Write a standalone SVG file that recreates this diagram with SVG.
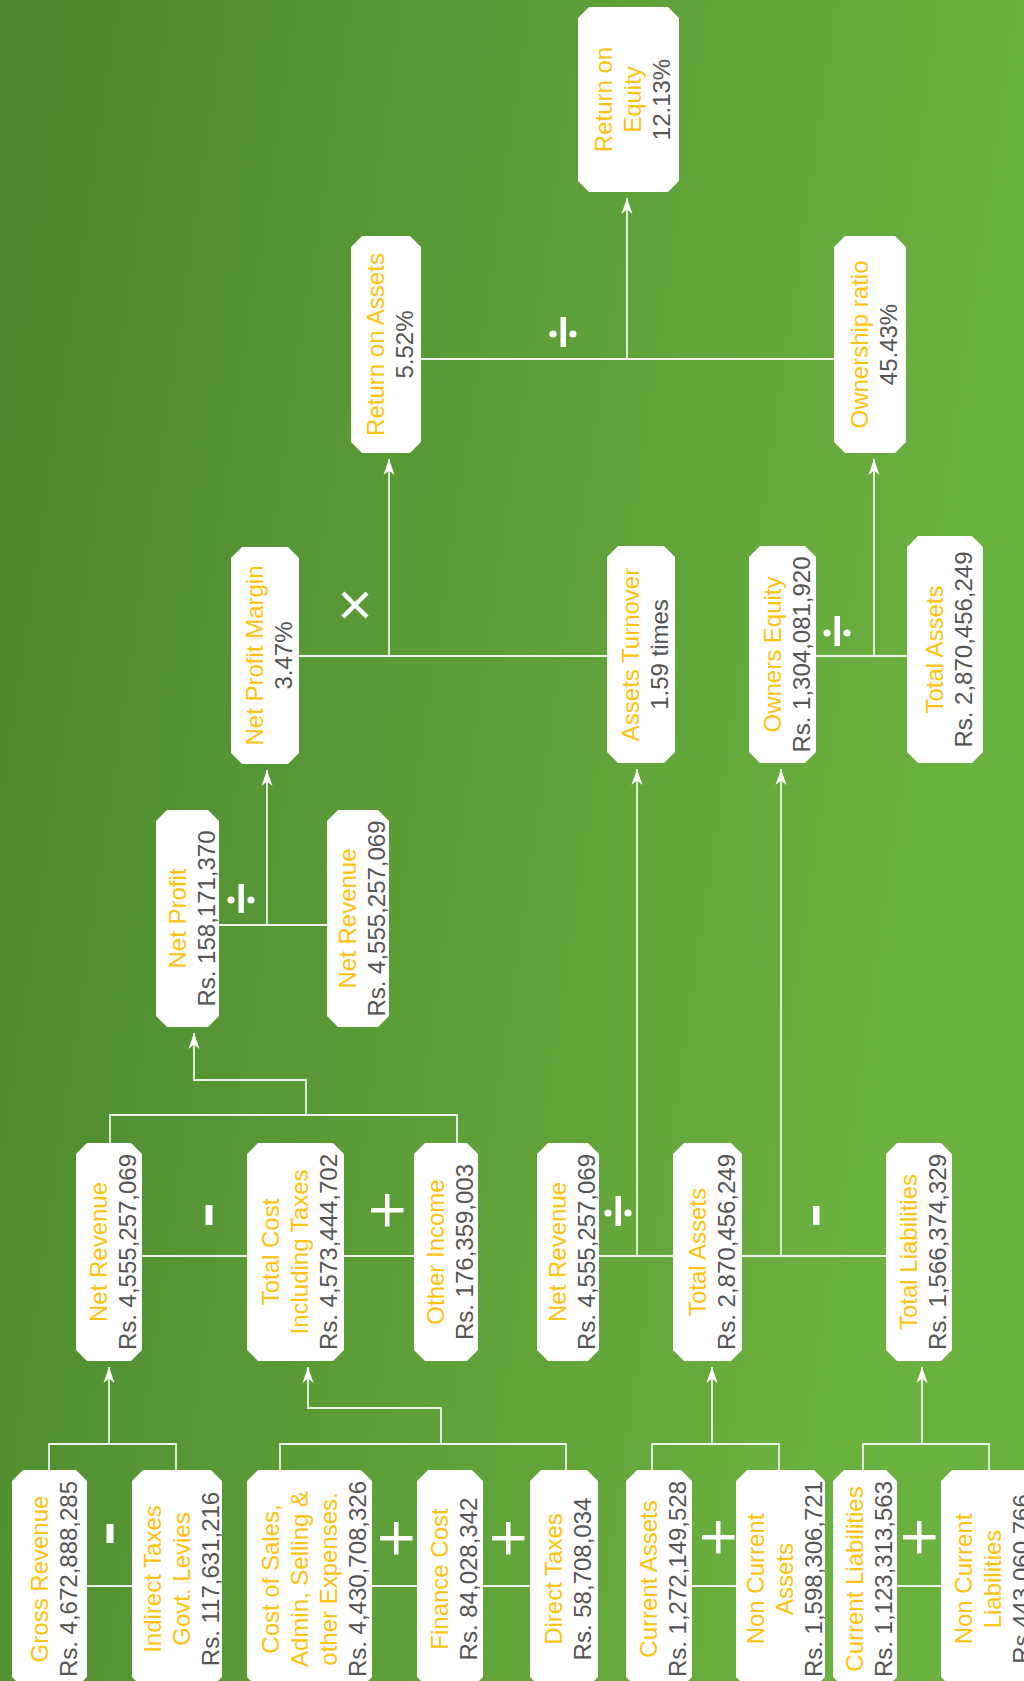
<svg xmlns="http://www.w3.org/2000/svg" width="1024" height="1681" viewBox="0 0 1024 1681">
<defs>
<linearGradient id="bg" gradientUnits="userSpaceOnUse" x1="0" y1="0" x2="1024" y2="150">
<stop offset="0" stop-color="#4a862e"/>
<stop offset="1" stop-color="#6bb13f"/>
</linearGradient>
<marker id="arr" markerUnits="userSpaceOnUse" viewBox="-16 -7 17 14" markerWidth="17" markerHeight="14" refX="0" refY="0" orient="auto" overflow="visible">
<path d="M0,0 L-16,-5.5 L-11.5,0 L-16,5.5 Z" fill="#ffffff"/>
</marker>
<style>
.box{fill:#ffffff}
text{font-family:"Liberation Sans",Arial,Helvetica,sans-serif;font-size:24px;text-anchor:middle}
.l{fill:#ffc20e}
.v{fill:#555555}
.c{fill:none;stroke:#eef2ea;stroke-width:1.8}
.a{marker-end:url(#arr)}
.op{fill:#ffffff}
.x{stroke:#ffffff;stroke-width:4.5;fill:none}
</style>
</defs>
<rect x="0" y="0" width="1024" height="1681" fill="url(#bg)"/>

<g id="connectors">
<path class="c" d="M49,1470 V1444 H176 V1470"/>
<path class="c a" d="M109,1444 V1367"/>
<path class="c" d="M280,1470 V1444 H566 V1470"/>
<path class="c a" d="M441,1444 V1408 H308 V1367"/>
<path class="c" d="M652,1470 V1444 H779 V1470"/>
<path class="c a" d="M712,1444 V1367"/>
<path class="c" d="M863,1470 V1444 H989 V1470"/>
<path class="c a" d="M922,1444 V1367"/>
<path class="c" d="M87,1586 H132 M372,1586 H417 M483,1586 H530 M692,1586 H736 M897,1586 H941"/>
<path class="c" d="M142,1256 H247 M344,1256 H414"/>
<path class="c" d="M110,1143 V1115 H457 V1143"/>
<path class="c a" d="M306,1115 V1080 H194 V1033"/>
<path class="c" d="M599,1256 H673 M742,1256 H886"/>
<path class="c a" d="M637,1256 V769"/>
<path class="c a" d="M781,1256 V769"/>
<path class="c" d="M219,925 H327"/>
<path class="c a" d="M267,925 V770"/>
<path class="c" d="M299,656 H607"/>
<path class="c a" d="M389,656 V459"/>
<path class="c" d="M816,656 H907"/>
<path class="c a" d="M874,656 V459"/>
<path class="c" d="M421,359 H834"/>
<path class="c a" d="M627,359 V198"/>
</g>

<g id="operators">
<rect class="op" x="106.5" y="1524" width="7" height="19"/>
<rect class="op" x="205.5" y="1205" width="7" height="20"/>
<rect class="op" x="813" y="1206" width="6.5" height="19"/>
<path class="op" d="M394,1522 h4.5 v14 h14 v4.5 h-14 v14 h-4.5 v-14 h-14 v-4.5 h14 Z"/>
<path class="op" d="M506,1522 h4.5 v14 h14 v4.5 h-14 v14 h-4.5 v-14 h-14 v-4.5 h14 Z"/>
<path class="op" d="M716,1521 h4.5 v14 h14 v4.5 h-14 v14 h-4.5 v-14 h-14 v-4.5 h14 Z"/>
<path class="op" d="M917,1521 h4.5 v14 h14 v4.5 h-14 v14 h-4.5 v-14 h-14 v-4.5 h14 Z"/>
<path class="op" d="M385,1194 h4.5 v14 h14 v4.5 h-14 v14 h-4.5 v-14 h-14 v-4.5 h14 Z"/>
<g>
<rect class="op" x="615.5" y="1196" width="5.5" height="30"/>
<circle class="op" cx="608" cy="1213" r="3.6"/>
<circle class="op" cx="628" cy="1213" r="3.6"/>
</g>
<g>
<rect class="op" x="238.5" y="884" width="5.5" height="29"/>
<circle class="op" cx="231" cy="900" r="3.6"/>
<circle class="op" cx="251" cy="900" r="3.6"/>
</g>
<g>
<rect class="op" x="834.5" y="616" width="5.5" height="30"/>
<circle class="op" cx="827" cy="633" r="3.6"/>
<circle class="op" cx="847" cy="633" r="3.6"/>
</g>
<g>
<rect class="op" x="560.5" y="317" width="5.5" height="30"/>
<circle class="op" cx="553" cy="334" r="3.6"/>
<circle class="op" cx="573" cy="334" r="3.6"/>
</g>
<path class="x" d="M343,593 L367,617 M367,593 L343,617"/>
</g>

<g id="n-roe">
<polygon class="box" points="589,7 668,7 679,18 679,181 668,192 589,192 578,181 578,18"/>
<text transform="translate(630.5 99.5) rotate(-90)"><tspan class="l" x="0" y="-18.5">Return on</tspan><tspan class="l" x="0" y="10.5">Equity</tspan><tspan class="v" x="0" y="39.5">12.13%</tspan></text>
</g>
<g id="n-roa">
<polygon class="box" points="362,236 410,236 421,247 421,442 410,453 362,453 351,442 351,247"/>
<text transform="translate(388 344.5) rotate(-90)"><tspan class="l" x="0" y="-4">Return on Assets</tspan><tspan class="v" x="0" y="25">5.52%</tspan></text>
</g>
<g id="n-own">
<polygon class="box" points="845,236 895,236 906,247 906,442 895,453 845,453 834,442 834,247"/>
<text transform="translate(872 344.5) rotate(-90)"><tspan class="l" x="0" y="-4">Ownership ratio</tspan><tspan class="v" x="0" y="25">45.43%</tspan></text>
</g>
<g id="n-npm">
<polygon class="box" points="242,547 288,547 299,558 299,753 288,764 242,764 231,753 231,558"/>
<text transform="translate(267 655.5) rotate(-90)"><tspan class="l" x="0" y="-4">Net Profit Margin</tspan><tspan class="v" x="0" y="25">3.47%</tspan></text>
</g>
<g id="n-at">
<polygon class="box" points="618,546 664,546 675,557 675,752 664,763 618,763 607,752 607,557"/>
<text transform="translate(643 654.5) rotate(-90)"><tspan class="l" x="0" y="-4">Assets Turnover</tspan><tspan class="v" x="0" y="25">1.59 times</tspan></text>
</g>
<g id="n-oe">
<polygon class="box" points="760,546 805,546 816,557 816,752 805,763 760,763 749,752 749,557"/>
<text transform="translate(784.5 654.5) rotate(-90)"><tspan class="l" x="0" y="-4">Owners Equity</tspan><tspan class="v" x="0" y="25">Rs. 1,304,081,920</tspan></text>
</g>
<g id="n-ta2">
<polygon class="box" points="918,536 972,536 983,547 983,752 972,763 918,763 907,752 907,547"/>
<text transform="translate(947 649.5) rotate(-90)"><tspan class="l" x="0" y="-4">Total Assets</tspan><tspan class="v" x="0" y="25">Rs. 2,870,456,249</tspan></text>
</g>
<g id="n-np">
<polygon class="box" points="167,810 208,810 219,821 219,1016 208,1027 167,1027 156,1016 156,821"/>
<text transform="translate(189.5 918.5) rotate(-90)"><tspan class="l" x="0" y="-4">Net Profit</tspan><tspan class="v" x="0" y="25">Rs. 158,171,370</tspan></text>
</g>
<g id="n-nr3">
<polygon class="box" points="338,810 378,810 389,821 389,1016 378,1027 338,1027 327,1016 327,821"/>
<text transform="translate(360 918.5) rotate(-90)"><tspan class="l" x="0" y="-4">Net Revenue</tspan><tspan class="v" x="0" y="25">Rs. 4,555,257,069</tspan></text>
</g>
<g id="n-nr1">
<polygon class="box" points="87,1143 131,1143 142,1154 142,1350 131,1361 87,1361 76,1350 76,1154"/>
<text transform="translate(111 1252) rotate(-90)"><tspan class="l" x="0" y="-4">Net Revenue</tspan><tspan class="v" x="0" y="25">Rs. 4,555,257,069</tspan></text>
</g>
<g id="n-tc">
<polygon class="box" points="258,1143 333,1143 344,1154 344,1350 333,1361 258,1361 247,1350 247,1154"/>
<text transform="translate(297.5 1252) rotate(-90)"><tspan class="l" x="0" y="-18.5">Total Cost</tspan><tspan class="l" x="0" y="10.5">Including Taxes</tspan><tspan class="v" x="0" y="39.5">Rs. 4,573,444,702</tspan></text>
</g>
<g id="n-oi">
<polygon class="box" points="425,1143 467,1143 478,1154 478,1350 467,1361 425,1361 414,1350 414,1154"/>
<text transform="translate(448 1252) rotate(-90)"><tspan class="l" x="0" y="-4">Other Income</tspan><tspan class="v" x="0" y="25">Rs. 176,359,003</tspan></text>
</g>
<g id="n-nr2">
<polygon class="box" points="548,1143 588,1143 599,1154 599,1350 588,1361 548,1361 537,1350 537,1154"/>
<text transform="translate(570 1252) rotate(-90)"><tspan class="l" x="0" y="-4">Net Revenue</tspan><tspan class="v" x="0" y="25">Rs. 4,555,257,069</tspan></text>
</g>
<g id="n-ta">
<polygon class="box" points="684,1143 731,1143 742,1154 742,1350 731,1361 684,1361 673,1350 673,1154"/>
<text transform="translate(709.5 1252) rotate(-90)"><tspan class="l" x="0" y="-4">Total Assets</tspan><tspan class="v" x="0" y="25">Rs. 2,870,456,249</tspan></text>
</g>
<g id="n-tl">
<polygon class="box" points="897,1143 941,1143 952,1154 952,1350 941,1361 897,1361 886,1350 886,1154"/>
<text transform="translate(921 1252) rotate(-90)"><tspan class="l" x="0" y="-4">Total Liabilities</tspan><tspan class="v" x="0" y="25">Rs. 1,566,374,329</tspan></text>
</g>
<g id="n-gr">
<polygon class="box" points="23,1470 76,1470 87,1481 87,1677 76,1688 23,1688 12,1677 12,1481"/>
<text transform="translate(51.5 1579) rotate(-90)"><tspan class="l" x="0" y="-4">Gross Revenue</tspan><tspan class="v" x="0" y="25">Rs. 4,672,888,285</tspan></text>
</g>
<g id="n-it">
<polygon class="box" points="143,1470 211,1470 222,1481 222,1677 211,1688 143,1688 132,1677 132,1481"/>
<text transform="translate(179 1579) rotate(-90)"><tspan class="l" x="0" y="-18.5">Indirect Taxes</tspan><tspan class="l" x="0" y="10.5">Govt. Levies</tspan><tspan class="v" x="0" y="39.5">Rs. 117,631,216</tspan></text>
</g>
<g id="n-cs">
<polygon class="box" points="258,1470 361,1470 372,1481 372,1677 361,1688 258,1688 247,1677 247,1481"/>
<text transform="translate(311.5 1579) rotate(-90)"><tspan class="l" x="0" y="-33">Cost of Sales,</tspan><tspan class="l" x="0" y="-4">Admin, Selling &amp;</tspan><tspan class="l" x="0" y="25">other Expenses.</tspan><tspan class="v" x="0" y="54">Rs. 4,430,708,326</tspan></text>
</g>
<g id="n-fc">
<polygon class="box" points="428,1470 472,1470 483,1481 483,1677 472,1688 428,1688 417,1677 417,1481"/>
<text transform="translate(452 1579) rotate(-90)"><tspan class="l" x="0" y="-4">Finance Cost</tspan><tspan class="v" x="0" y="25">Rs. 84,028,342</tspan></text>
</g>
<g id="n-dt">
<polygon class="box" points="541,1470 587,1470 598,1481 598,1677 587,1688 541,1688 530,1677 530,1481"/>
<text transform="translate(566 1579) rotate(-90)"><tspan class="l" x="0" y="-4">Direct Taxes</tspan><tspan class="v" x="0" y="25">Rs. 58,708,034</tspan></text>
</g>
<g id="n-ca">
<polygon class="box" points="637,1470 681,1470 692,1481 692,1677 681,1688 637,1688 626,1677 626,1481"/>
<text transform="translate(661 1579) rotate(-90)"><tspan class="l" x="0" y="-4">Current Assets</tspan><tspan class="v" x="0" y="25">Rs. 1,272,149,528</tspan></text>
</g>
<g id="n-nca">
<polygon class="box" points="747,1470 814,1470 825,1481 825,1677 814,1688 747,1688 736,1677 736,1481"/>
<text transform="translate(782.5 1579) rotate(-90)"><tspan class="l" x="0" y="-18.5">Non Current</tspan><tspan class="l" x="0" y="10.5">Assets</tspan><tspan class="v" x="0" y="39.5">Rs. 1,598,306,721</tspan></text>
</g>
<g id="n-cl">
<polygon class="box" points="844,1470 886,1470 897,1481 897,1677 886,1688 844,1688 833,1677 833,1481"/>
<text transform="translate(867 1579) rotate(-90)"><tspan class="l" x="0" y="-4">Current Liabilities</tspan><tspan class="v" x="0" y="25">Rs. 1,123,313,563</tspan></text>
</g>
<g id="n-ncl">
<polygon class="box" points="952,1470 1029,1470 1040,1481 1040,1677 1029,1688 952,1688 941,1677 941,1481"/>
<text transform="translate(990.5 1579) rotate(-90)"><tspan class="l" x="0" y="-18.5">Non Current</tspan><tspan class="l" x="0" y="10.5">Liabilities</tspan><tspan class="v" x="0" y="39.5">Rs.443,060,766</tspan></text>
</g>
</svg>
